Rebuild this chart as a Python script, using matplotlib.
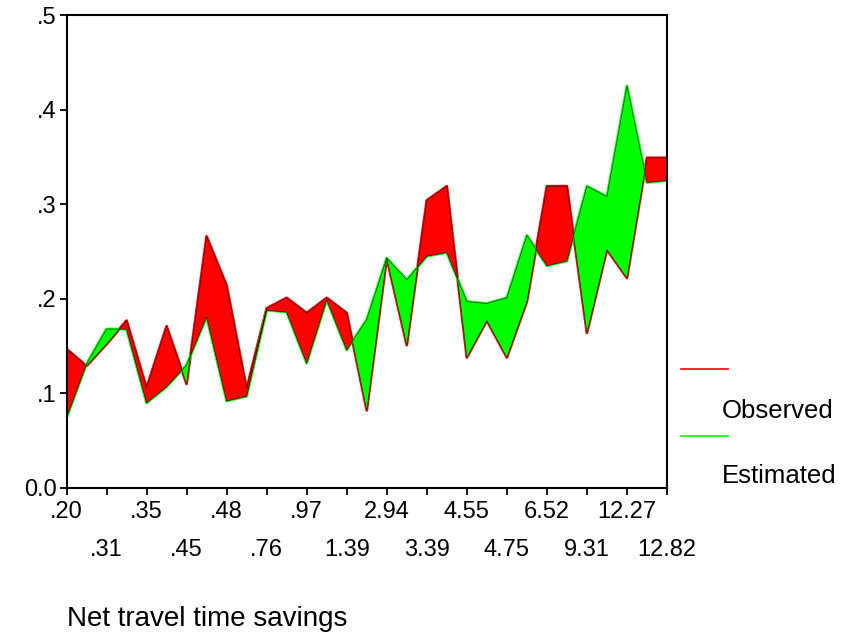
import matplotlib.pyplot as plt
from matplotlib.lines import Line2D
import numpy as np

plt.rcParams['font.family'] = ['Liberation Sans', 'DejaVu Sans']

# tick labels (every second observation is labelled)
tick_labels = ['.20', '.31', '.35', '.45', '.48', '.76', '.97', '1.39',
               '2.94', '3.39', '4.55', '4.75', '6.52', '9.31', '12.27', '12.82']

# observed and estimated shares, ordered by net travel time savings
observed = [0.147, 0.129, 0.152, 0.177, 0.106, 0.171, 0.110, 0.266, 0.214, 0.105,
            0.190, 0.201, 0.185, 0.201, 0.185, 0.082, 0.243, 0.151, 0.304, 0.319,
            0.138, 0.177, 0.138, 0.197, 0.319, 0.319, 0.164, 0.252, 0.222, 0.349,
            0.349]
estimated = [0.074, 0.131, 0.168, 0.168, 0.090, 0.107, 0.130, 0.181, 0.092, 0.097,
             0.188, 0.186, 0.132, 0.199, 0.146, 0.178, 0.243, 0.220, 0.245, 0.249,
             0.197, 0.195, 0.201, 0.267, 0.235, 0.240, 0.319, 0.308, 0.425, 0.323,
             0.325]

obs = np.array(observed)
est = np.array(estimated)
x = np.arange(len(obs))

fig = plt.figure(figsize=(8.46, 6.36), dpi=100)
ax = fig.add_axes([66.5 / 846, 1 - 488 / 636, 600.5 / 846, 473 / 636])

# lines first, the shaded gap is drawn over them
ax.plot(x, obs, color='#ff0000', lw=2.0, zorder=1)
ax.plot(x, est, color='#00ff00', lw=2.0, zorder=1)
ax.fill_between(x, obs, est, where=obs >= est, interpolate=True,
                facecolor='#ff0000', edgecolor='#400000', lw=0.5, zorder=2)
ax.fill_between(x, obs, est, where=obs < est, interpolate=True,
                facecolor='#00ff00', edgecolor='#004000', lw=0.5, zorder=2)

ax.set_xlim(0, 30)
ax.set_ylim(0, 0.5)

ax.set_yticks([0, 0.1, 0.2, 0.3, 0.4, 0.5])
ax.set_yticklabels(['0.0', '.1', '.2', '.3', '.4', '.5'])

# staggered x labels: major ticks on the first row, minor ticks on the second
pos = np.arange(0, 31, 2)
ax.set_xticks(pos[::2])
ax.set_xticklabels(tick_labels[::2])
ax.set_xticks(pos[1::2], minor=True)
ax.set_xticklabels(tick_labels[1::2], minor=True)

ax.tick_params(axis='both', which='both', direction='out', length=5, width=1.3,
               labelsize=17)
ax.tick_params(axis='x', which='major', pad=4.5)
ax.tick_params(axis='x', which='minor', pad=32)
ax.tick_params(axis='y', pad=2)

for s in ax.spines.values():
    s.set_linewidth(1.5)

fig.text(67 / 846, 1 - 619 / 636, 'Net travel time savings', fontsize=20,
         ha='left', va='center')

# legend at the right
fig.add_artist(Line2D([681 / 846, 728 / 846], [1 - 369 / 636] * 2,
                      transform=fig.transFigure, color='#ff0000', lw=1.2))
fig.text(722 / 846, 1 - 411 / 636, 'Observed', fontsize=18.5, ha='left', va='center')
fig.add_artist(Line2D([681 / 846, 728 / 846], [1 - 436 / 636] * 2,
                      transform=fig.transFigure, color='#00ff00', lw=1.2))
fig.text(722 / 846, 1 - 476 / 636, 'Estimated', fontsize=18.5, ha='left', va='center')

fig.savefig('out.png', dpi=100)
